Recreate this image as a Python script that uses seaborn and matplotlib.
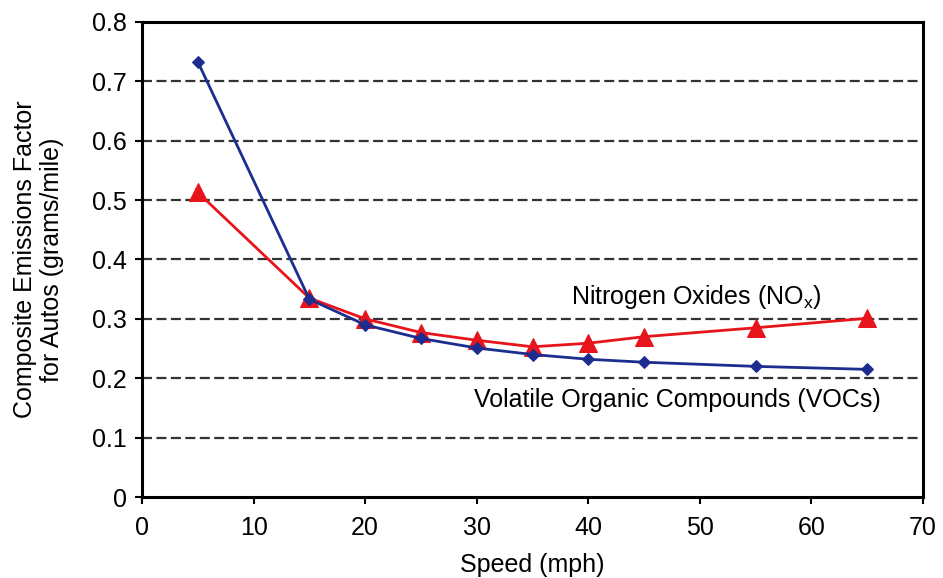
import numpy as np
import pandas as pd
import seaborn as sns
import matplotlib.pyplot as plt

# speed (mph) and composite emission factors (grams/mile)
speed = [5, 15, 20, 25, 30, 35, 40, 45, 55, 65]
voc = [0.733, 0.333, 0.290, 0.267, 0.251, 0.240, 0.232, 0.227, 0.220, 0.215]
nox = [0.513, 0.335, 0.300, 0.277, 0.264, 0.253, 0.259, 0.270, 0.285, 0.301]

x_ticks = [0, 10, 20, 30, 40, 50, 60, 70]
y_ticks = [0, 0.1, 0.2, 0.3, 0.4, 0.5, 0.6, 0.7, 0.8]
y_labels = ["0", "0.1", "0.2", "0.3", "0.4", "0.5", "0.6", "0.7", "0.8"]

sns.set_style("ticks")
plt.rcParams['font.family'] = ['Liberation Sans', 'DejaVu Sans']
plt.rcParams['text.color'] = 'black'
plt.rcParams['axes.labelcolor'] = 'black'
plt.rcParams['xtick.color'] = 'black'
plt.rcParams['ytick.color'] = 'black'

df = pd.DataFrame({'speed': speed, 'voc': voc, 'nox': nox})

fig, ax = plt.subplots(figsize=(9.43, 5.78), dpi=100)
fig.subplots_adjust(left=0.1506, right=0.9788, top=0.962, bottom=0.1401)

# dashed gridlines first so the lines sit on top
for yv in y_ticks[1:-1]:
    ax.axhline(yv, color='#333333', linestyle=(0, (4.5, 2)), linewidth=1.6, zorder=0)

sns.lineplot(data=df, x='speed', y='nox', ax=ax, color='#e8141b', linewidth=2,
             marker='^', markersize=13, markeredgecolor='#e8141b', zorder=3)
sns.lineplot(data=df, x='speed', y='voc', ax=ax, color='#1c2d8f', linewidth=2,
             marker='D', markersize=6.5, markeredgecolor='#1c2d8f', zorder=4)

ax.set_xlim(0, 70)
ax.set_ylim(0, 0.8)
ax.set_xticks(x_ticks)
ax.set_yticks(y_ticks)
ax.set_yticklabels(y_labels)
ax.tick_params(axis='both', labelsize=18, length=5, width=1.5, direction='out')
ax.tick_params(axis='x', pad=9)
ax.tick_params(axis='y', pad=6)

for sp in ax.spines.values():
    sp.set_visible(True)
    sp.set_linewidth(2.2)
    sp.set_color('black')

ax.set_xlabel('Speed (mph)', fontsize=18, labelpad=9)
ax.set_ylabel('Composite Emissions Factor\nfor Autos (grams/mile)', fontsize=18,
              labelpad=20, linespacing=1.15)

ax.text(49.7, 0.337, 'Nitrogen Oxides (NO$_\\mathregular{x}$)', fontsize=18,
        ha='center', va='center')
ax.text(48.0, 0.163, 'Volatile Organic Compounds (VOCs)', fontsize=18,
        ha='center', va='center')

fig.savefig('out.png', dpi=100)
